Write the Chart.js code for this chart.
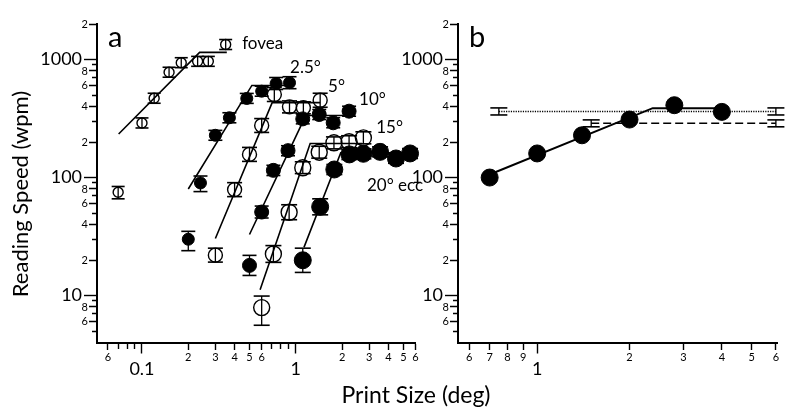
<!DOCTYPE html>
<html><head><meta charset="utf-8">
<script src="https://cdn.jsdelivr.net/npm/chart.js@4.4.0/dist/chart.umd.min.js"></script>
<style>
html,body{margin:0;padding:0;background:#fff;}
#wrap{position:relative;width:800px;height:414px;overflow:hidden;background:#fff;}
canvas{position:absolute;left:0;top:0;}
</style></head><body>
<div id="wrap"><canvas id="ca" width="800" height="414"></canvas><canvas id="cb" width="800" height="414"></canvas></div>
<script>
const F = 'Lato, "Open Sans", sans-serif';

// ---------- Panel a: reading speed (wpm) vs print size (deg) ----------
const foveaX  = [0.07, 0.1, 0.12, 0.15, 0.18, 0.23, 0.27, 0.35];
const foveaY  = [75, 290, 470, 780, 940, 965, 965, 1340];
const foveaLo = [66, 263, 426, 708, 853, 876, 876, 1216];
const foveaHi = [84, 320, 518, 860, 1036, 1063, 1063, 1477];
const foveaFitX = [0.0705, 0.237, 0.356];
const foveaFitY = [234, 1150, 1150];

const e25X  = [0.2, 0.24, 0.3, 0.37, 0.48, 0.6, 0.745, 0.91];
const e25Y  = [30, 90, 228, 321, 468, 539, 626, 636];
const e25Lo = [24, 76, 207, 291, 425, 489, 557, 566];
const e25Hi = [35, 103, 251, 354, 516, 594, 704, 715];
const e25FitX = [0.2, 0.518, 0.91];
const e25FitY = [80, 603, 603];

const e5X  = [0.3, 0.4, 0.5, 0.6, 0.725, 0.91, 1.12, 1.44];
const e5Y  = [22, 79, 157, 276, 505, 397, 390, 452];
const e5Lo = [19.2, 68.9, 137, 241, 441, 353, 347, 394];
const e5Hi = [25.2, 90.5, 180, 316, 579, 446, 438, 518];
const e5FitX = [0.3, 0.702, 1.44];
const e5FitY = [30.4, 431, 431];

const e10X  = [0.5, 0.6, 0.715, 0.89, 1.11, 1.42, 1.75, 2.22];
const e10Y  = [18, 51, 115, 169, 314, 342, 291, 365];
const e10Lo = [14.8, 45.4, 104, 153, 285, 310, 264, 331];
const e10Hi = [21.9, 57.3, 127, 186, 346, 377, 321, 402];
const e10FitX = [0.5, 1.16, 2.22];
const e10FitY = [32.9, 335, 335];

const e15X  = [0.6, 0.715, 0.905, 1.11, 1.42, 1.77, 2.22, 2.75];
const e15Y  = [7.9, 22.5, 50.8, 121, 164, 197, 201, 217];
const e15Lo = [5.6, 19.1, 43.9, 108, 146, 175, 179, 193];
const e15Hi = [9.9, 26.5, 58.8, 136, 184, 221, 226, 244];
const e15FitX = [0.586, 1.24, 2.7];
const e15FitY = [11.2, 194, 194];

const e20X  = [1.11, 1.44, 1.78, 2.23, 2.75, 3.53, 4.48, 5.53];
const e20Y  = [19.9, 56.5, 117, 157, 159, 165, 145, 160];
const e20Lo = [15.7, 48.3, 106, 142, 144, 150, 132, 145];
const e20Hi = [25.2, 66, 129, 173, 175, 182, 160, 176];
const e20FitX = [1.13, 1.96, 5.53];
const e20FitY = [25.6, 162, 162];

// series labels (text, anchor x in deg, anchor y in wpm)
const seriesLabels = ['fovea', '2.5°', '5°', '10°', '15°', '20° ecc'];
const seriesLabelX = [0.448, 0.918, 1.62, 2.58, 3.33, 2.9];
const seriesLabelY = [1366, 855, 590, 458, 265, 85];

// ---------- Panel b ----------
const bX = [0.7, 1.0, 1.4, 2.0, 2.8, 4.0];
const bY = [100, 160, 228, 310, 410, 360];
const bFitX = [0.7, 2.38, 4.0];
const bFitY = [106, 387, 387];
const dotRefX = [0.75, 6.0];
const dotRefY = [363, 363];
const dotRefLo = [339, 339];
const dotRefHi = [389, 389];
const dashRefX = [1.5, 6.0];
const dashRefY = [288, 288];
const dashRefLo = [269, 269];
const dashRefHi = [308, 308];

// ---------- ticks ----------
const xTicksA  = [0.06,0.07,0.08,0.09,0.1,0.2,0.3,0.4,0.5,0.6,0.7,0.8,0.9,1,2,3,4,5,6];
const xLabelsA = ['6','','','','0.1','2','3','4','5','6','','','','1','2','3','4','5','6'];
const xMajorA  = [0.1, 1];
const xTicksB  = [0.6,0.7,0.8,0.9,1,2,3,4,5,6];
const xLabelsB = ['6','7','8','9','1','2','3','4','5','6'];
const xMajorB  = [1];
const yTicks  = [5,6,7,8,9,10,20,30,40,50,60,70,80,90,100,200,300,400,500,600,700,800,900,1000,2000];
const yLabels = ['','6','','8','','10','2','','4','','6','','8','','100','2','','4','','6','','8','','1000','2'];
const yMajor  = [10, 100, 1000];

const pts = (xs, ys) => xs.map((x, i) => ({x, y: ys[i]}));
function errPts(xs, lo, hi) {
  const d = [];
  xs.forEach((x, i) => { d.push({x, y: lo[i]}, {x, y: hi[i]}, {x, y: NaN}); });
  return d;
}
const mk = (vals, majors) => vals.map(v => ({value: v, major: majors.includes(v)}));

function xAxis(vals, labels, majors, min, max) {
  const lab = v => labels[vals.indexOf(v)];
  return {
    type: 'logarithmic', position: 'bottom', min, max,
    afterBuildTicks: s => { s.ticks = mk(vals, majors); },
    afterFit: s => { s.height = 71.5; },
    ticks: {autoSkip: false, maxRotation: 0, minRotation: 0, padding: -1.5, color: '#000',
      callback: v => lab(v),
      font: c => (c.tick && c.tick.major) ? {family: F, size: 18, lineHeight: 1.95} : {family: F, size: 11, lineHeight: 1}},
    grid: {drawOnChartArea: false, drawTicks: true, tickLength: 11, tickColor: '#000', tickWidth: 1.4,
      tickBorderDash: c => (!c.tick || c.tick.major) ? [] : (lab(c.tick.value) ? [6, 100] : [5, 100])},
    border: {display: true, color: '#000', width: 2}
  };
}
function yAxis(width) {
  const lab = v => yLabels[yTicks.indexOf(v)];
  return {
    type: 'logarithmic', position: 'left', min: 4, max: 2000,
    afterBuildTicks: s => { s.ticks = mk(yTicks, yMajor); },
    afterFit: s => { s.width = width; },
    ticks: {autoSkip: false, padding: -4, color: '#000',
      callback: v => yMajor.includes(v) ? lab(v) + '\u2004' : lab(v),
      font: c => (c.tick && c.tick.major) ? {family: F, size: 18} : {family: F, size: 11}},
    grid: {drawOnChartArea: false, drawTicks: true, tickLength: 13, tickColor: '#000', tickWidth: 1.4,
      tickBorderDash: c => (!c.tick || c.tick.major) ? [] : (lab(c.tick.value) ? [0, 5, 100] : [0, 8, 100])},
    border: {display: true, color: '#000', width: 2}
  };
}

function markers(xs, ys, r, filled) {
  return {type: 'scatter', data: pts(xs, ys), showLine: false, pointRadius: r, pointHoverRadius: r,
    pointBackgroundColor: filled ? '#000' : 'rgba(255,255,255,0)', pointBorderColor: '#000',
    pointBorderWidth: filled ? 1 : 1.4, order: 0, clip: false};
}
function errors(xs, lo, hi, cap) {
  return {type: 'line', data: errPts(xs, lo, hi), showLine: true, spanGaps: false, borderColor: '#000',
    borderWidth: 1.3, pointStyle: 'line', pointRadius: cap, pointHoverRadius: cap, pointBorderColor: '#000',
    pointBorderWidth: 1.6, order: 1, clip: false};
}
function fit(xs, ys, w, dash) {
  return {type: 'line', data: pts(xs, ys), showLine: true, borderColor: '#000', borderWidth: w,
    borderDash: dash || [], pointRadius: 0, pointHoverRadius: 0, order: 2, clip: false, tension: 0};
}

const annot = {
  id: 'annot',
  afterDraw(chart, args, o) {
    const {ctx, chartArea} = chart;
    const sx = chart.scales.x, sy = chart.scales.y;
    ctx.save();
    ctx.fillStyle = '#000';
    ctx.textBaseline = 'alphabetic'; ctx.textAlign = 'left';
    ctx.font = '29px ' + F;
    ctx.fillText(o.letter, chartArea.left + 11, chartArea.top + 23);
    if (o.series) {
      ctx.font = '17px ' + F; ctx.textBaseline = 'middle';
      o.series.forEach((t, i) => ctx.fillText(t, sx.getPixelForValue(o.sx[i]), sy.getPixelForValue(o.sy[i])));
    }
    if (o.titles) {
      ctx.textAlign = 'center'; ctx.textBaseline = 'middle';
      ctx.font = '23px ' + F;
      ctx.fillText('Print Size (deg)', 416, 396);
      ctx.font = '22px ' + F;
      ctx.translate(21, 194); ctx.rotate(-Math.PI / 2);
      ctx.fillText('Reading Speed (wpm)', 0, 0);
    }
    ctx.restore();
  }
};

const common = {responsive: false, animation: false, events: [],
  plugins: {legend: {display: false}, tooltip: {enabled: false}}};

new Chart(document.getElementById('ca'), {
  type: 'scatter',
  data: {datasets: [
    markers(foveaX, foveaY, 5, false), markers(e25X, e25Y, 6, true), markers(e5X, e5Y, 7, false),
    markers(e10X, e10Y, 7, true), markers(e15X, e15Y, 8, false), markers(e20X, e20Y, 8.5, true),
    errors(foveaX, foveaLo, foveaHi, 6.5), errors(e25X, e25Lo, e25Hi, 7), errors(e5X, e5Lo, e5Hi, 7.5),
    errors(e10X, e10Lo, e10Hi, 7), errors(e15X, e15Lo, e15Hi, 8), errors(e20X, e20Lo, e20Hi, 8),
    fit(foveaFitX, foveaFitY, 1.6), fit(e25FitX, e25FitY, 1.6), fit(e5FitX, e5FitY, 1.6),
    fit(e10FitX, e10FitY, 1.6), fit(e15FitX, e15FitY, 1.6), fit(e20FitX, e20FitY, 1.6)
  ]},
  options: Object.assign({}, common, {
    layout: {padding: {left: 0, top: 24, right: 800 - 415.5, bottom: 0}},
    scales: {x: xAxis(xTicksA, xLabelsA, xMajorA, 0.051, 6), y: yAxis(97)},
    plugins: Object.assign({}, common.plugins, {annot: {letter: 'a', series: seriesLabels, sx: seriesLabelX, sy: seriesLabelY, titles: true}})
  }),
  plugins: [annot]
});

new Chart(document.getElementById('cb'), {
  type: 'scatter',
  data: {datasets: [
    markers(bX, bY, 8.5, true),
    errors(dotRefX, dotRefLo, dotRefHi, 8.5), errors(dashRefX, dashRefLo, dashRefHi, 8.5),
    fit(bFitX, bFitY, 2), fit(dotRefX, dotRefY, 1.5, [1.2, 1.2]), fit(dashRefX, dashRefY, 1.5, [8, 4])
  ]},
  options: Object.assign({}, common, {
    layout: {padding: {left: 0, top: 24, right: 23, bottom: 0}},
    scales: {x: xAxis(xTicksB, xLabelsB, xMajorB, 0.552, 6.05), y: yAxis(458)},
    plugins: Object.assign({}, common.plugins, {annot: {letter: 'b'}})
  }),
  plugins: [annot]
});
</script>
</body></html>
